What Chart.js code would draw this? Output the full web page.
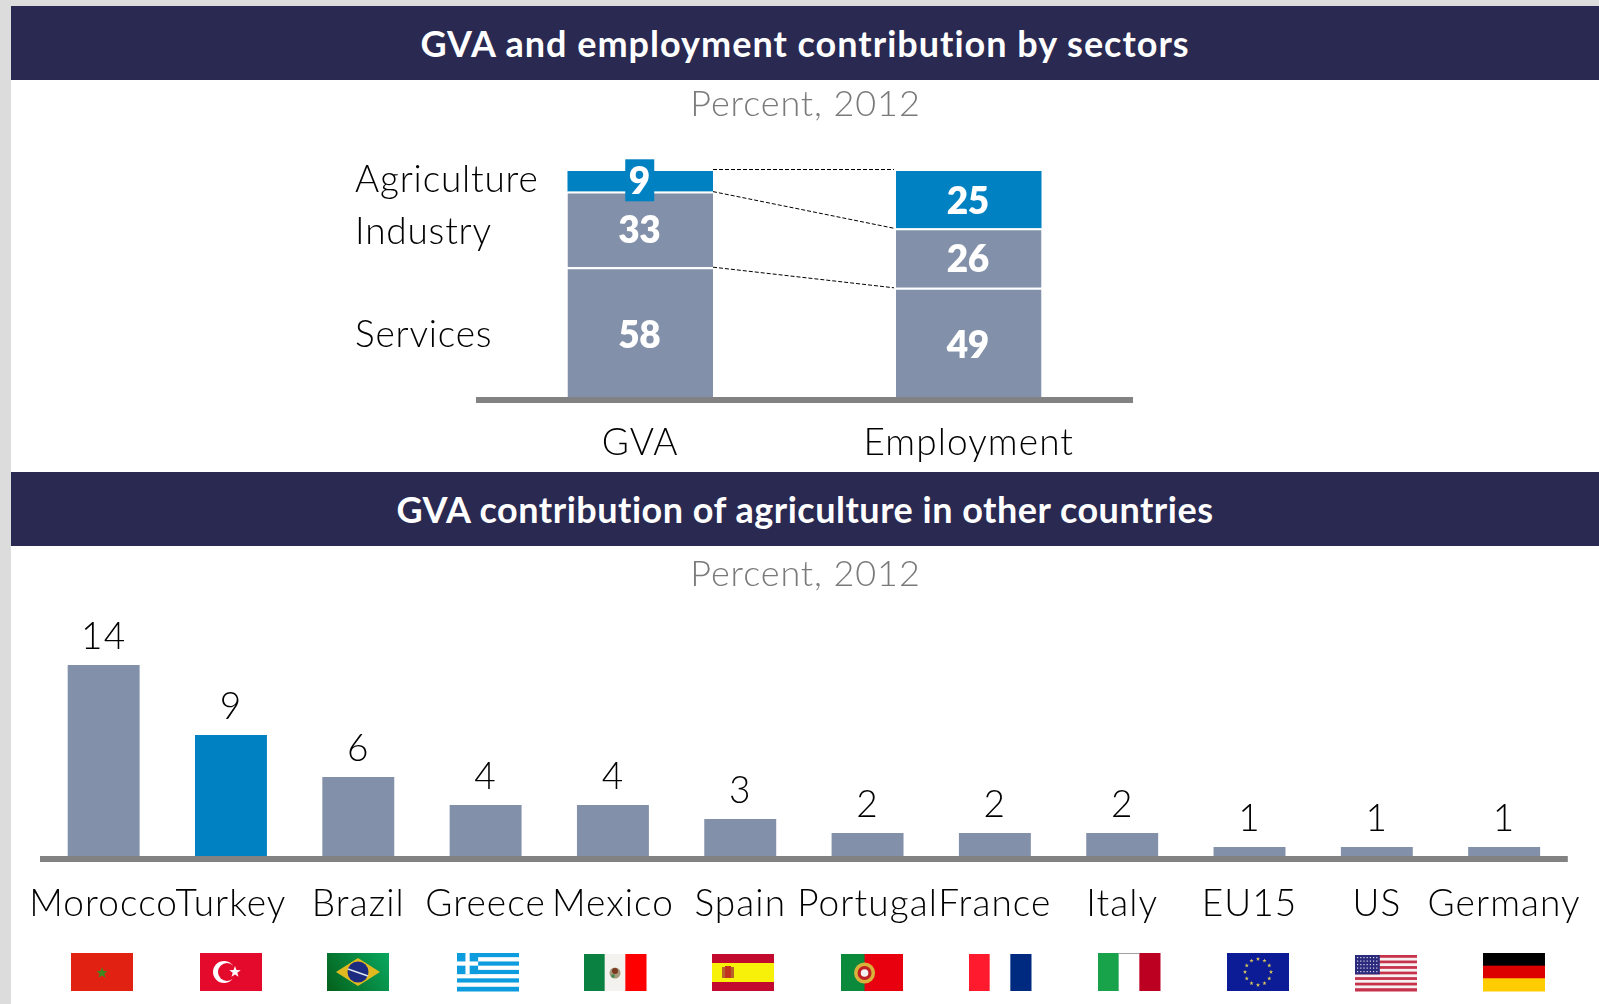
<!DOCTYPE html>
<html>
<head>
<meta charset="utf-8">
<title>GVA and employment</title>
<script src="https://cdn.jsdelivr.net/npm/chart.js@4"></script>
<style>
    html, body { margin: 0; padding: 0; }
    body { width: 1599px; height: 1004px; background: #dcdcdc; overflow: hidden; position: relative; font-family: Lato, sans-serif; }
    #sheet { position: absolute; left: 11px; top: 6px; right: 0; bottom: 0; background: #fff; }
    .banner { position: absolute; left: 11px; right: 0; height: 74px; line-height: 74px; background: #292951; color: #fff; font-weight: 700; font-size: 36px; text-align: center; }
    .unit { position: absolute; left: 0; width: 1611px; text-align: center; color: #7a7a7a; font-size: 36px; font-weight: 300; letter-spacing: 0.9px; line-height: 44px; }
    canvas { position: absolute; left: 0; }
</style>
</head>
<body>
<div id="sheet"></div>
<canvas id="sectorChart" width="1599" height="392" style="top:80px"></canvas>
<canvas id="countryChart" width="1599" height="458" style="top:546px"></canvas>
<div class="banner" style="top:6px; letter-spacing:1px">GVA and employment contribution by sectors</div>
<div class="unit" style="top:80px">Percent, 2012</div>
<div class="banner" style="top:472px; letter-spacing:0.5px">GVA contribution of agriculture in other countries</div>
<div class="unit" style="top:550px">Percent, 2012</div>

<script>
    const sectorCategories = ['GVA', 'Employment'];
    const servicesValues = [58, 49];
    const industryValues = [33, 26];
    const agricultureValues = [9, 25];

    const countries = ['Morocco', 'Turkey', 'Brazil', 'Greece', 'Mexico', 'Spain', 'Portugal', 'France', 'Italy', 'EU15', 'US', 'Germany'];
    const countryValues = [14, 9, 6, 4, 4, 3, 2, 2, 2, 1, 1, 1];

    const GREY_BLUE = '#8290a9';
    const BLUE = '#0081c2';
    const AXIS_GREY = '#828282';
    const FONT = 'Lato, sans-serif';
    const LABEL_SPACING = '1.1px';

    // left edge of each flag strip, in canvas pixels
    const flagLeft = [71, 200, 327, 457, 584, 712, 841, 969, 1098, 1227, 1355, 1483];

    function drawText(ctx, text, x, y, font, color, align) {
        ctx.font = font;
        ctx.fillStyle = color;
        ctx.textAlign = align || 'center';
        ctx.textBaseline = 'middle';
        ctx.fillText(text, x, y);
    }

    // thick baseline that stays inside the plot width and covers the bar feet
    const baseline = {
        id: 'baseline',
        beforeDraw(chart) {
            chart.ctx.letterSpacing = LABEL_SPACING;
        },
        afterDatasetsDraw(chart, args, opts) {
            const area = chart.chartArea;
            chart.ctx.fillStyle = AXIS_GREY;
            chart.ctx.fillRect(area.left, area.bottom - opts.lift, area.right - area.left, 6);
        }
    };

    // dashed connectors, white value labels and the row names at the left
    const sectorOverlay = {
        id: 'sectorOverlay',
        afterDraw(chart) {
            const ctx = chart.ctx;
            const y = chart.scales.y;
            const gva = 0, emp = 1;
            const bar0 = chart.getDatasetMeta(0).data[gva];
            const bar1 = chart.getDatasetMeta(0).data[emp];
            const fromX = bar0.x + bar0.width / 2;
            const toX = bar1.x - bar1.width / 2 - 2;

            ctx.save();
            ctx.strokeStyle = '#000';
            ctx.lineWidth = 1;
            ctx.setLineDash([4, 2]);
            const levels = [
                [100, 100],
                [servicesValues[gva] + industryValues[gva], servicesValues[emp] + industryValues[emp]],
                [servicesValues[gva], servicesValues[emp]]
            ];
            levels.forEach((lv, i) => {
                const lift = i === 0 ? 1.5 : 0;
                ctx.beginPath();
                ctx.moveTo(fromX, y.getPixelForValue(lv[0]) - lift);
                ctx.lineTo(toX, y.getPixelForValue(lv[1]) - lift);
                ctx.stroke();
            });
            ctx.setLineDash([]);

            // the thin agriculture segment gets a small box so the number stays readable
            const agri = chart.getDatasetMeta(2).data[gva];
            ctx.fillStyle = BLUE;
            ctx.fillRect(agri.x - 15, (agri.y + agri.base) / 2 - 22, 29, 42);

            ctx.letterSpacing = '-0.5px';
            const boldFont = '800 37px ' + FONT;
            [servicesValues, industryValues, agricultureValues].forEach((vals, d) => {
                const meta = chart.getDatasetMeta(d);
                vals.forEach((v, i) => {
                    const el = meta.data[i];
                    const nudge = d === 2 && i === gva ? 1 : 2;
                    drawText(ctx, String(v), el.x - 1, (el.y + el.base) / 2 + nudge, boldFont, '#fff');
                });
            });

            ctx.letterSpacing = '0.8px';
            const nameFont = '300 37px ' + FONT;
            const mid = (a, b) => y.getPixelForValue((a + b) / 2);
            const s = servicesValues[gva], n = s + industryValues[gva];
            drawText(ctx, 'Agriculture', 355, mid(n, 100) - 1, nameFont, '#000', 'left');
            drawText(ctx, 'Industry', 355, mid(s, n) + 3, nameFont, '#000', 'left');
            drawText(ctx, 'Services', 355, mid(0, s) + 1, nameFont, '#000', 'left');
            ctx.restore();
        }
    };

    function hStripes(ctx, x, y, w, h, cols) {
        cols.forEach((c, i) => {
            ctx.fillStyle = c;
            ctx.fillRect(x, y + h * i / cols.length, w, h / cols.length + 0.5);
        });
    }

    function vStripes(ctx, x, y, w, h, cols) {
        cols.forEach((c, i) => {
            ctx.fillStyle = c;
            ctx.fillRect(x + w * i / cols.length, y, w / cols.length + 0.5, h);
        });
    }

    function star(ctx, cx, cy, r, color) {
        ctx.beginPath();
        for (let i = 0; i < 10; i++) {
            const a = -Math.PI / 2 + i * Math.PI / 5;
            const rad = i % 2 ? r * 0.4 : r;
            ctx.lineTo(cx + rad * Math.cos(a), cy + rad * Math.sin(a));
        }
        ctx.closePath();
        ctx.fillStyle = color;
        ctx.fill();
    }

    function disc(ctx, cx, cy, r, color) {
        ctx.fillStyle = color;
        ctx.beginPath();
        ctx.arc(cx, cy, r, 0, Math.PI * 2);
        ctx.fill();
    }

    const flagPainters = {
        Morocco(ctx, x, y, w, h) {
            ctx.fillStyle = '#e12112';
            ctx.fillRect(x, y, w, h);
            star(ctx, x + w / 2, y + h / 2 + 1, 6, '#3f8a1e');
        },
        Turkey(ctx, x, y, w, h) {
            ctx.fillStyle = '#e30a2c';
            ctx.fillRect(x, y, w, h);
            disc(ctx, x + 24, y + h / 2, 11, '#fff');
            disc(ctx, x + 27, y + h / 2, 9, '#e30a2c');
            star(ctx, x + 35, y + h / 2, 6, '#fff');
        },
        Brazil(ctx, x, y, w, h) {
            const g = ctx.createLinearGradient(x, y + h, x + w, y);
            g.addColorStop(0, '#04601a');
            g.addColorStop(1, '#0aa860');
            ctx.fillStyle = g;
            ctx.fillRect(x, y, w, h);
            ctx.fillStyle = '#e0b820';
            ctx.beginPath();
            ctx.moveTo(x + 9, y + h / 2);
            ctx.lineTo(x + w / 2, y + 5);
            ctx.lineTo(x + w - 9, y + h / 2);
            ctx.lineTo(x + w / 2, y + h - 5);
            ctx.closePath();
            ctx.fill();
            disc(ctx, x + w / 2, y + h / 2, 10.5, '#1c2a80');
            ctx.strokeStyle = '#dfe6ef';
            ctx.lineWidth = 1.5;
            ctx.beginPath();
            ctx.moveTo(x + w / 2 - 10, y + h / 2 - 3);
            ctx.lineTo(x + w / 2 + 10, y + h / 2 + 4);
            ctx.stroke();
        },
        Greece(ctx, x, y, w, h) {
            const blue = '#0d9ddf';
            hStripes(ctx, x, y, w, h, [blue, '#fff', blue, '#fff', blue, '#fff', blue, '#fff', blue]);
            const cw = h * 5 / 9;
            ctx.fillStyle = blue;
            ctx.fillRect(x, y, cw, cw);
            ctx.fillStyle = '#fff';
            ctx.fillRect(x, y + cw * 0.4, cw, cw * 0.2);
            ctx.fillRect(x + cw * 0.4, y, cw * 0.2, cw);
        },
        Mexico(ctx, x, y, w, h) {
            vStripes(ctx, x, y + 1, w, h - 1, ['#0a8140', '#f4f2ee', '#ff0000']);
            disc(ctx, x + w / 2, y + h / 2 + 1, 5.5, '#a89a7c');
            disc(ctx, x + w / 2, y + h / 2 - 1, 3, '#7a3a22');
            disc(ctx, x + w / 2 - 2, y + h / 2 + 4, 1.8, '#3f8a4e');
        },
        Spain(ctx, x, y, w, h) {
            ctx.fillStyle = '#c10a2e';
            ctx.fillRect(x, y + 1, w, h - 1);
            ctx.fillStyle = '#f7f10a';
            ctx.fillRect(x, y + 10, w, 19);
            ctx.fillStyle = '#b8632a';
            ctx.fillRect(x + 10, y + 14, 3, 11);
            ctx.fillRect(x + 19, y + 14, 3, 11);
            ctx.fillStyle = '#c0331f';
            ctx.fillRect(x + 13, y + 13, 6, 12);
        },
        Portugal(ctx, x, y, w, h) {
            ctx.fillStyle = '#e8000f';
            ctx.fillRect(x, y + 1, w, h - 1);
            ctx.fillStyle = '#0a8a3a';
            ctx.fillRect(x, y + 1, w * 0.38, h - 1);
            disc(ctx, x + w * 0.38, y + h / 2 + 1, 10.5, '#d9b23a');
            disc(ctx, x + w * 0.38, y + h / 2 + 1, 7, '#c01f24');
            disc(ctx, x + w * 0.38, y + h / 2 + 1, 3.8, '#f2f2f2');
        },
        France(ctx, x, y, w, h) {
            vStripes(ctx, x, y + 1, w, h - 1, ['#ff1a2e', '#fff', '#002a80']);
        },
        Italy(ctx, x, y, w, h) {
            vStripes(ctx, x, y, w, h, ['#18a34a', '#fff', '#bb0022']);
            ctx.fillStyle = '#a0a0a0';
            ctx.fillRect(x + w / 3, y, w / 3, 1);
        },
        EU15(ctx, x, y, w, h) {
            ctx.fillStyle = '#0b1c96';
            ctx.fillRect(x, y, w, h);
            for (let i = 0; i < 12; i++) {
                const a = i * Math.PI / 6;
                star(ctx, x + w / 2 + 13 * Math.sin(a), y + h / 2 - 13 * Math.cos(a), 2.2, '#dcc65a');
            }
        },
        US(ctx, x, y, w, h) {
            const red = '#c5324a';
            const rows = [];
            for (let i = 0; i < 13; i++) rows.push(i % 2 ? '#f7f0f2' : red);
            hStripes(ctx, x, y + 2, w, h - 2, rows);
            ctx.fillStyle = '#2c2a7c';
            ctx.fillRect(x, y + 2, w * 0.4, (h - 2) * 7 / 13);
            ctx.fillStyle = '#dcdcf0';
            for (let r = 0; r < 5; r++) {
                for (let c = 0; c < 7; c++) {
                    ctx.fillRect(x + 2 + c * 3.2, y + 4 + r * 3.5, 1.2, 1.2);
                }
            }
        },
        Germany(ctx, x, y, w, h) {
            hStripes(ctx, x, y, w, h, ['#000', '#dc0000', '#ffcc00']);
        }
    };

    // value labels over the bars and the flag strip under the axis
    const countryOverlay = {
        id: 'countryOverlay',
        afterDraw(chart) {
            const ctx = chart.ctx;
            const meta = chart.getDatasetMeta(0);
            ctx.save();
            countryValues.forEach((v, i) => {
                const el = meta.data[i];
                drawText(ctx, String(v), el.x, el.y - 28, '300 37px ' + FONT, '#000');
            });
            countries.forEach((name, i) => {
                flagPainters[name](ctx, flagLeft[i], 407, 62, 38);
            });
            ctx.restore();
        }
    };

    function bottomAxis(height, padding) {
        return {
            grid: { display: false, drawTicks: false },
            border: { display: false },
            afterFit: scale => { scale.height = height; },
            ticks: {
                color: '#000',
                padding: padding,
                autoSkip: false,
                maxRotation: 0,
                minRotation: 0,
                font: { family: FONT, size: 37, weight: 300 }
            }
        };
    }

    const segment = (label, data, color, top) => ({
        label: label,
        data: data,
        backgroundColor: color,
        borderColor: '#fff',
        borderWidth: { top: top },
        borderSkipped: false,
        barPercentage: 0.443,
        categoryPercentage: 1
    });

    new Chart(document.getElementById('sectorChart').getContext('2d'), {
        type: 'bar',
        data: {
            labels: sectorCategories,
            datasets: [
                segment('Services', servicesValues, GREY_BLUE, 2),
                segment('Industry', industryValues, GREY_BLUE, 2),
                segment('Agriculture', agricultureValues, BLUE, 0)
            ]
        },
        options: {
            responsive: false,
            animation: false,
            layout: { padding: { left: 476, right: 466, top: 91, bottom: 0 } },
            plugins: { legend: { display: false }, tooltip: { enabled: false }, baseline: { lift: 3 } },
            scales: {
                x: Object.assign(bottomAxis(72, 21), { stacked: true }),
                y: { display: false, stacked: true, min: 0, max: 100 }
            }
        },
        plugins: [baseline, sectorOverlay]
    });

    new Chart(document.getElementById('countryChart').getContext('2d'), {
        type: 'bar',
        data: {
            labels: countries,
            datasets: [{
                label: 'Agriculture share of GVA',
                data: countryValues,
                backgroundColor: countries.map(c => c === 'Turkey' ? BLUE : GREY_BLUE),
                barPercentage: 0.565,
                categoryPercentage: 1
            }]
        },
        options: {
            responsive: false,
            animation: false,
            layout: { padding: { left: 40, right: 26, top: 119, bottom: 0 } },
            plugins: { legend: { display: false }, tooltip: { enabled: false }, baseline: { lift: 5 } },
            scales: {
                x: bottomAxis(143, 21),
                y: { display: false, min: 0, max: 14 }
            }
        },
        plugins: [baseline, countryOverlay]
    });
</script>
</body>
</html>
